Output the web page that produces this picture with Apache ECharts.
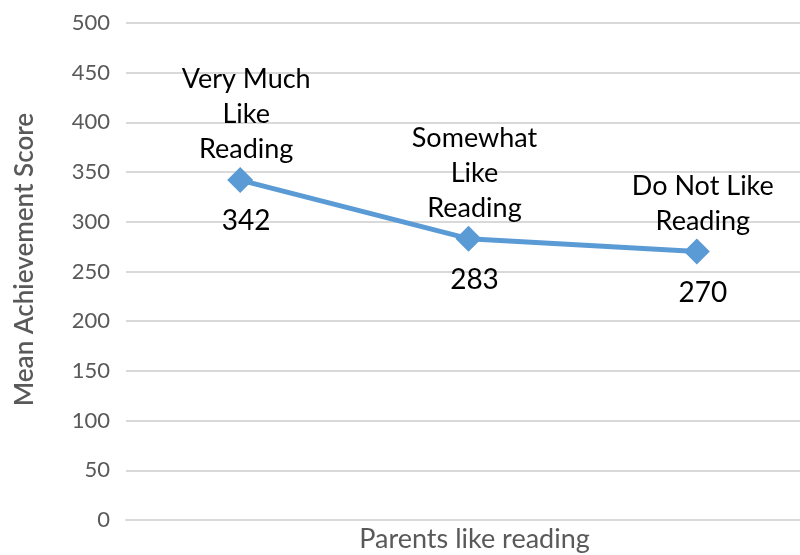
<!DOCTYPE html>
<html><head><meta charset="utf-8">
<script src="https://cdn.jsdelivr.net/npm/echarts@6/dist/echarts.min.js"></script>
<style>html,body{margin:0;padding:0;background:#fff}#c{width:800px;height:555px}</style>
</head><body><div id="c"></div>
<script>
const categories = ["Very Much\nLike\nReading", "Somewhat\nLike\nReading", "Do Not Like\nReading"];
const scores = [342, 283, 270];
const yTicks = {min: 0, max: 500, interval: 50};
const xAxisTitle = "Parents like reading";
const yAxisTitle = "Mean Achievement Score";

const chart = echarts.init(document.getElementById('c'), null, {renderer: 'canvas'});
const gray = '#595959';
chart.setOption({
  animation: false,
  grid: {left: 126, width: 685, top: 23, height: 497, containLabel: false, outerBoundsMode: 'none'},
  xAxis: {
    type: 'category', data: categories, boundaryGap: true,
    name: xAxisTitle, nameLocation: 'middle', nameGap: 6,
    nameTextStyle: {color: gray, fontSize: 27, fontFamily: 'Lato', verticalAlign: 'top', padding: [0, 0, 0, 12]},
    axisLine: {show: true, lineStyle: {color: '#d9d9d9', width: 2}},
    axisTick: {show: false}, axisLabel: {show: false}, splitLine: {show: false}
  },
  yAxis: {
    type: 'value', min: yTicks.min, max: yTicks.max, interval: yTicks.interval,
    name: yAxisTitle, nameLocation: 'middle', nameGap: 88, nameRotate: 90,
    nameTextStyle: {color: gray, fontSize: 26, fontWeight: 600, fontFamily: 'Lato', padding: [0, 0, 0, 24]},
    axisLine: {show: false}, axisTick: {show: false},
    axisLabel: {color: gray, fontSize: 22, fontFamily: 'Lato', margin: 16},
    splitLine: {lineStyle: {color: '#d9d9d9', width: 2}}
  },
  series: [
    {
      type: 'line', data: scores, symbol: 'diamond', symbolSize: 26, z: 3,
      itemStyle: {color: '#5B9BD5'}, lineStyle: {color: '#5B9BD5', width: 5},
      label: {show: true, position: 'top', distance: 0, color: '#000', fontSize: 27, fontFamily: 'Lato', lineHeight: 35, align: 'center',
        padding: [0, 0, 0, 12], formatter: p => categories[p.dataIndex]}
    },
    {
      type: 'line', data: scores, symbol: 'circle', symbolSize: 2, silent: true, z: 1,
      itemStyle: {color: 'rgba(0,0,0,0)'}, lineStyle: {width: 0, color: 'rgba(0,0,0,0)'},
      labelLayout: {hideOverlap: false},
      label: {show: true, position: 'bottom', distance: 26, color: '#000', fontSize: 28, fontFamily: 'Lato',
        padding: [0, 0, 0, 12], formatter: p => String(p.value)}
    }
  ]
});
</script></body></html>
